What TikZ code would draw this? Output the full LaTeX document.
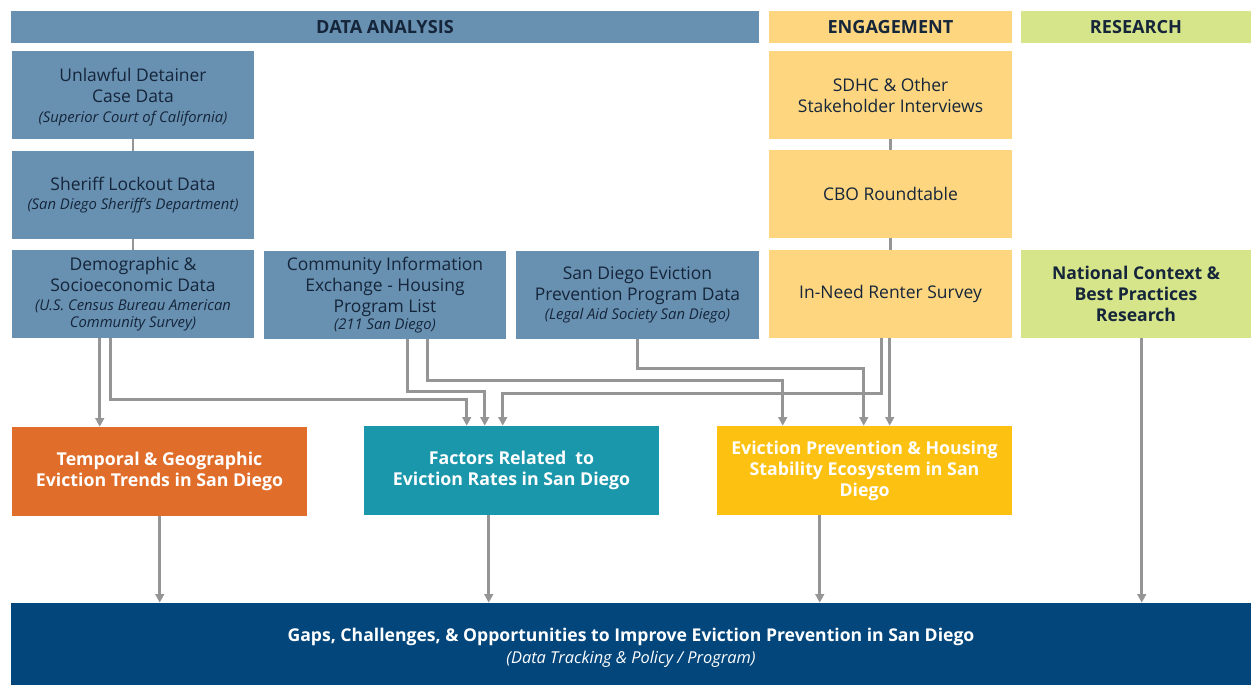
\documentclass[tikz,border=0pt]{standalone}
\usepackage{fontspec}
\setmainfont{Open Sans}
\usetikzlibrary{calc,arrows.meta}
\definecolor{dablue}{HTML}{6890B1}
\definecolor{engy}{HTML}{FDD67F}
\definecolor{resg}{HTML}{D6E48A}
\definecolor{orng}{HTML}{E06D2A}
\definecolor{teal}{HTML}{1B97AB}
\definecolor{gold}{HTML}{FDC111}
\definecolor{navy}{HTML}{02467C}
\definecolor{ink}{HTML}{15253A}
\definecolor{conn}{HTML}{959595}
\tikzset{
  sz/.style 2 args={minimum width=#1*0.75pt, minimum height=#2*0.75pt, inner sep=0pt, align=center},
  hdr/.style={fill=#1, text=ink, font=\bfseries\fontsize{13.6}{15}\selectfont},
  src/.style={fill=#1, text=ink, font=\fontsize{13.1}{15.8}\selectfont},
  outbox/.style={fill=#1, text=white, font=\bfseries\fontsize{13.3}{15.8}\selectfont},
  arr/.style={draw=conn, line width=2pt, -{Triangle[width=6.5pt,length=6.5pt]}},
  lnk/.style={draw=conn, line width=2pt},
}
\newcommand{\subt}[1]{{\itshape\fontsize{11.1}{13}\selectfont #1}}
\begin{document}
\begin{tikzpicture}[x=0.75pt,y=-0.75pt]
\useasboundingbox (0,0) rectangle (1252,685);
% headers
\node[hdr=dablue, sz={748}{32}] (hda) at (385,27) {DATA ANALYSIS};
\node[hdr=engy, sz={243}{32}] (heng) at (890.5,27) {ENGAGEMENT};
\node[hdr=resg, sz={230}{32}] (hres) at (1136,27) {RESEARCH};
% data analysis
\node[src=dablue, sz={242}{88}] (ud) at (133,95) {\rule{0pt}{13pt}Unlawful Detainer\\Case Data\\[-1pt]\subt{(Superior Court of California)}};
\node[src=dablue, sz={242}{88}] (sh) at (133,195) {Sheriff Lockout Data\\[-2pt]\subt{(San Diego Sheriff's Department)}};
\node[src=dablue, sz={242}{88}] (dem) at (133,294) {Demographic \&\\Socioeconomic Data\\[-2pt]\subt{(U.S. Census Bureau American}\\[-3pt]\subt{Community Survey)}};
\node[src=dablue, sz={242}{88}] (cie) at (385,295) {Community Information\\Exchange - Housing\\Program List\\[-3pt]\subt{(211 San Diego)}};
\node[src=dablue, sz={243}{88}] (sde) at (637.5,295) {San Diego Eviction\\Prevention Program Data\\[-2pt]\subt{(Legal Aid Society San Diego)}};
% engagement
\node[src=engy, sz={243}{88}] (sdhc) at (890.5,95) {SDHC \& Other\\Stakeholder Interviews};
\node[src=engy, sz={243}{88}] (cbo) at (890.5,194) {CBO Roundtable};
\node[src=engy, sz={243}{88}] (inr) at (890.5,294) {In-Need Renter Survey};
% research
\node[src=resg, sz={230}{88}, font=\bfseries\fontsize{13.2}{15.8}\selectfont] (nat) at (1136,294) {National Context \&\\Best Practices\\Research};
% outputs
\node[outbox=orng, sz={295}{89}] (tmp) at (159.5,471.5) {Temporal \& Geographic\\Eviction Trends in San Diego};
\node[outbox=teal, sz={295}{89}] (fac) at (511.5,470.5) {Factors Related~ to\\Eviction Rates in San Diego};
\node[outbox=gold, sz={295}{89}] (eps) at (864.5,470.5) {Eviction Prevention \& Housing\\Stability Ecosystem in San\\Diego};
\node[outbox=navy, sz={1240}{82}, font=\bfseries\fontsize{13.2}{16.5}\selectfont] (gap) at (631,644) {\rule{0pt}{16pt}Gaps, Challenges, \& Opportunities to Improve Eviction Prevention in San Diego\\[0pt]{\mdseries\itshape\fontsize{12.3}{14}\selectfont (Data Tracking \& Policy / Program)}};
% plain links
\draw[lnk] (ud.south) -- (sh.north);
\draw[lnk] (sh.south) -- (dem.north);
\draw[lnk] (sdhc.south) -- (cbo.north);
\draw[lnk] (cbo.south) -- (inr.north);
% arrows
\draw[arr] ($(dem.south west)+(88,0)$) -- ($(tmp.north west)+(88,0)$);
\draw[arr] ($(dem.south west)+(99,0)$) -- ++(0,61) -| ($(fac.north west)+(103,0)$);
\draw[arr] ($(cie.south west)+(144,0)$) -- ++(0,52) -| ($(fac.north west)+(121,0)$);
\draw[arr] ($(cie.south west)+(164,0)$) -- ++(0,41) -| ($(eps.north west)+(66,0)$);
\draw[arr] ($(sde.south west)+(122,0)$) -- ++(0,29) -| ($(eps.north west)+(147,0)$);
\draw[arr] ($(inr.south west)+(113,0)$) -- ++(0,55) -| ($(fac.north west)+(139,0)$);
\draw[arr] ($(inr.south west)+(121,0)$) -- ($(eps.north west)+(173,0)$);
\draw[arr] ($(nat.south west)+(121,0)$) -- ($(gap.north west)+(1131,0)$);
\draw[arr] ($(tmp.south west)+(148,0)$) -- ($(gap.north west)+(149,0)$);
\draw[arr] ($(fac.south west)+(125,0)$) -- ($(gap.north west)+(478,0)$);
\draw[arr] ($(eps.south west)+(103,0)$) -- ($(gap.north west)+(809,0)$);
\end{tikzpicture}
\end{document}
